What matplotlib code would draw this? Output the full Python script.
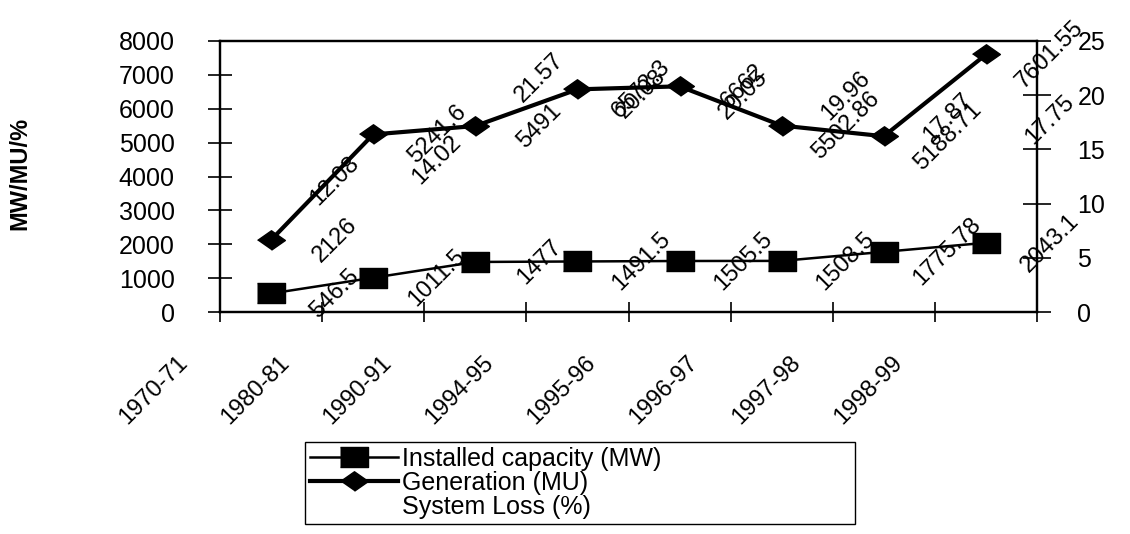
import matplotlib
matplotlib.use("Agg")
import matplotlib.pyplot as plt
from matplotlib.transforms import ScaledTranslation
import numpy as np

plt.rcParams['font.family'] = ['Liberation Sans', 'DejaVu Sans']

# data
years = ['1970-71', '1980-81', '1990-91', '1994-95', '1995-96',
         '1996-97', '1997-98', '1998-99']
installed = [546.5, 1011.5, 1477, 1491.5, 1505.5, 1508.5, 1775.78, 2043.1]
generation = [2126, 5241.6, 5491, 6572.3, 6662, 5502.86, 5188.71, 7601.55]
sys_loss = [12.08, 14.02, 21.57, 20.08, 20.05, 19.96, 17.87, 17.75]

x = np.arange(len(years))

fig = plt.figure(figsize=(11.3, 5.34), dpi=100)
ax = fig.add_axes([220/1130, 1 - 312/534, (1037-220)/1130, (312-41)/534])
ax2 = ax.twinx()

sq = [(-1, -0.7), (1, -0.7), (1, 0.7), (-1, 0.7)]
dia = [(-1, 0), (0, 0.7), (1, 0), (0, -0.7)]

l1, = ax.plot(x, installed, color='black', lw=1.8, marker=sq, ms=20,
              label='Installed capacity (MW)')
l2, = ax.plot(x, generation, color='black', lw=3, marker=dia, ms=20,
              label='Generation (MU)')
l3, = ax2.plot(x, sys_loss, linestyle='none', marker='none',
               label='System Loss (%)')

lab_kw = dict(textcoords='offset points', xytext=(46, 0), rotation=45,
              ha='center', va='center', fontsize=17, annotation_clip=False)
for xi, v in zip(x, installed):
    ax.annotate(f'{v:g}', (xi, v), **lab_kw)
for xi, v in zip(x, generation):
    ax.annotate(f'{v:g}', (xi, v), **lab_kw)
for xi, v in zip(x, sys_loss):
    ax2.annotate(f'{v:g}', (xi, v), **lab_kw)

ax.set_xlim(-0.5, len(years) - 0.5)
ax.set_ylim(0, 8000)
ax2.set_ylim(0, 25)
ax.set_yticks(np.arange(0, 8001, 1000))
ax2.set_yticks(np.arange(0, 26, 5))

# ticks on category boundaries, labels hang down-left of each tick
ax.set_xticks(np.arange(-0.5, len(years) + 0.5, 1))
ax.set_xticklabels([])
lab_tr = ax.get_xaxis_transform() + ScaledTranslation(-0.28, -0.40, fig.dpi_scale_trans)
for xi, yr in zip(x, years):
    ax.text(xi - 0.5, 0, yr, transform=lab_tr, rotation=45, ha='right',
            va='top', fontsize=17)

ax.tick_params(axis='x', direction='inout', length=14, width=1.2)
ax.tick_params(axis='y', direction='inout', length=17, width=1.2,
               labelsize=18, pad=24)
ax2.tick_params(axis='y', direction='inout', length=20, width=1.2,
                labelsize=18, pad=19)

for a in (ax, ax2):
    for s in a.spines.values():
        s.set_linewidth(1.6)
        s.set_color('black')

fig.text(20/1130, 1 - 173/534, 'MW/MU/%', rotation=90, fontsize=17,
         fontweight='heavy', ha='center', va='center')

fig.legend(handles=[l1, l2, l3], loc='upper left', mode='expand',
           bbox_to_anchor=(305/1130, 0, 550/1130, 1 - 442/534),
           borderaxespad=0, fontsize=18, handlelength=3.5,
           handletextpad=0.2, labelspacing=0.0, borderpad=0.2,
           fancybox=False, edgecolor='black', framealpha=1)

fig.savefig('out.png', dpi=100)
